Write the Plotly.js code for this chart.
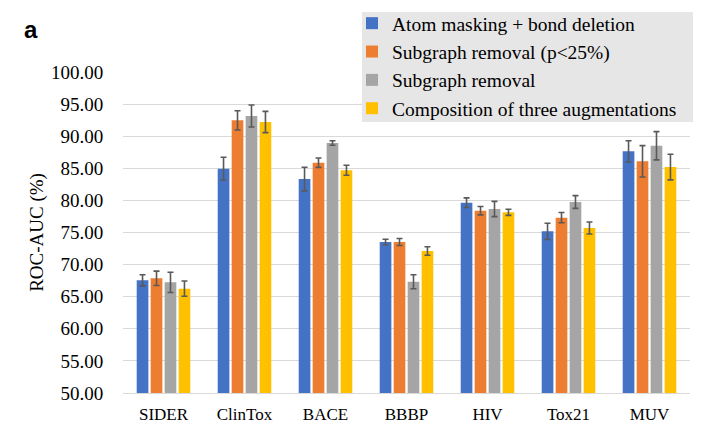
<!DOCTYPE html>
<html>
<head>
<meta charset="utf-8">
<script src="https://cdn.plot.ly/plotly-3.0.1.min.js"></script>
<style>html,body{margin:0;padding:0;background:#fff;}#chart{width:708px;height:434px;}</style>
</head>
<body>
<div id="chart"></div>
<script>
const categories = ["SIDER", "ClinTox", "BACE", "BBBP", "HIV", "Tox21", "MUV"];
const seriesNames = ["Atom masking + bond deletion", "Subgraph removal (p<25%)", "Subgraph removal", "Composition of three augmentations"];
const atomBond = [67.55, 84.94, 83.33, 73.52, 79.65, 75.18, 87.64];
const atomBondErr = [0.86, 1.77, 1.84, 0.42, 0.75, 1.27, 1.66];
const subP25 = [67.87, 92.47, 85.87, 73.52, 78.40, 77.31, 86.09];
const subP25Err = [1.12, 1.50, 0.73, 0.55, 0.65, 0.80, 2.44];
const subgraph = [67.24, 93.15, 88.94, 67.34, 78.66, 79.75, 88.52];
const subgraphErr = [1.58, 1.71, 0.36, 1.09, 1.19, 0.99, 2.20];
const composition = [66.25, 92.21, 84.69, 72.12, 78.14, 75.70, 85.20];
const compositionErr = [1.19, 1.66, 0.78, 0.67, 0.47, 0.93, 2.00];
const yTickVals = [50, 55, 60, 65, 70, 75, 80, 85, 90, 95, 100];
const yTickText = ["50.00", "55.00", "60.00", "65.00", "70.00", "75.00", "80.00", "85.00", "90.00", "95.00", "100.00"];

const colors = ["#4472C4", "#ED7D31", "#A5A5A5", "#FFC000"];
const vals = [atomBond, subP25, subgraph, composition];
const errs = [atomBondErr, subP25Err, subgraphErr, compositionErr];

const traces = vals.map((v, i) => ({
  type: "bar",
  name: seriesNames[i],
  x: categories,
  y: v,
  marker: {color: colors[i], line: {width: 0}},
  error_y: {type: "data", array: errs[i], visible: true, color: "#595959", thickness: 1.6, width: 3}
}));

const serif = "Liberation Serif, Times New Roman, serif";
const W = 567, H = 321, L = 123, T = 72;
const px = x => (x - L) / W;
const py = y => (T + H - y) / H;
const layout = {
  width: 708, height: 434,
  margin: {l: L, r: 18, t: T, b: 41, autoexpand: false},
  paper_bgcolor: "#fff", plot_bgcolor: "#fff",
  barmode: "group", bargap: 0.31, bargroupgap: 0.165,
  showlegend: true,
  legend: {
    x: px(352), y: py(4), xanchor: "left", yanchor: "top",
    bgcolor: "rgba(0,0,0,0)", borderwidth: 0,
    font: {family: serif, size: 19.5, color: "#000"},
    traceorder: "normal", itemwidth: 30
  },
  shapes: [{
    type: "rect", xref: "paper", yref: "paper", layer: "above",
    x0: px(362), x1: px(693), y0: py(122), y1: py(12),
    fillcolor: "#E7E6E6", line: {width: 0}
  }],
  xaxis: {
    type: "category",
    showgrid: false, showline: true, linecolor: "#D9D9D9", linewidth: 1,
    ticks: "outside", ticklen: 6, tickcolor: "rgba(0,0,0,0)",
    tickfont: {family: serif, size: 17, color: "#000"},
    zeroline: false
  },
  yaxis: {
    range: [50, 100],
    tickvals: yTickVals, ticktext: yTickText,
    showgrid: true, gridcolor: "#D9D9D9", gridwidth: 1,
    showline: false, zeroline: false,
    ticks: "outside", ticklen: 15, tickcolor: "rgba(0,0,0,0)",
    tickfont: {family: serif, size: 19, color: "#000"},
    title: {text: "ROC-AUC (%)", font: {family: serif, size: 19, color: "#000"}, standoff: 2}
  },
  annotations: [{
    text: "<b>a</b>", xref: "paper", yref: "paper",
    x: px(31), y: py(30), xanchor: "center", yanchor: "middle",
    showarrow: false, font: {family: "Liberation Sans, Arial, sans-serif", size: 24, color: "#000"}
  }]
};

Plotly.newPlot("chart", traces, layout, {displayModeBar: false, staticPlot: true});
</script>
</body>
</html>
